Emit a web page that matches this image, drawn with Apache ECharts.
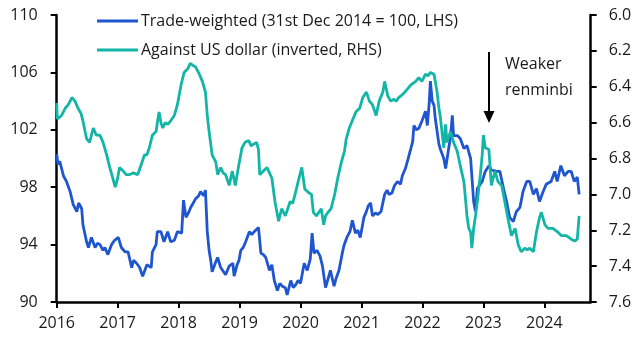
<!DOCTYPE html>
<html><head><meta charset="utf-8">
<script src="https://cdn.jsdelivr.net/npm/echarts@6/dist/echarts.min.js"></script>
<style>html,body{margin:0;padding:0;background:#fff}#c{width:644px;height:355px}</style>
</head><body><div id="c"></div>
<script>
// Trade-weighted renminbi (31st Dec 2014 = 100), LHS
const twYears = [2016.00,2016.02,2016.05,2016.11,2016.16,2016.22,2016.27,2016.33,2016.36,2016.41,2016.43,2016.49,2016.52,2016.57,2016.63,2016.67,2016.71,2016.76,2016.79,2016.84,2016.90,2016.95,2017.01,2017.06,2017.12,2017.17,2017.23,2017.26,2017.31,2017.36,2017.41,2017.48,2017.55,2017.57,2017.63,2017.65,2017.71,2017.76,2017.82,2017.87,2017.93,2017.98,2018.05,2018.08,2018.12,2018.16,2018.20,2018.24,2018.28,2018.33,2018.36,2018.41,2018.44,2018.47,2018.50,2018.53,2018.55,2018.61,2018.64,2018.69,2018.72,2018.77,2018.83,2018.89,2018.91,2018.96,2018.99,2019.02,2019.06,2019.10,2019.16,2019.20,2019.24,2019.31,2019.35,2019.39,2019.43,2019.49,2019.53,2019.57,2019.62,2019.66,2019.70,2019.75,2019.78,2019.84,2019.88,2019.92,2019.96,2020.00,2020.06,2020.11,2020.16,2020.19,2020.22,2020.27,2020.32,2020.36,2020.41,2020.45,2020.49,2020.55,2020.58,2020.63,2020.68,2020.71,2020.76,2020.81,2020.85,2020.90,2020.94,2020.98,2021.04,2021.08,2021.11,2021.15,2021.18,2021.23,2021.27,2021.32,2021.38,2021.42,2021.45,2021.50,2021.54,2021.59,2021.64,2021.67,2021.72,2021.76,2021.81,2021.84,2021.86,2021.90,2021.94,2021.99,2022.05,2022.08,2022.11,2022.13,2022.16,2022.19,2022.21,2022.24,2022.27,2022.29,2022.35,2022.38,2022.43,2022.46,2022.49,2022.51,2022.57,2022.62,2022.68,2022.73,2022.79,2022.81,2022.84,2022.87,2022.90,2022.93,2022.98,2023.03,2023.09,2023.13,2023.16,2023.22,2023.27,2023.33,2023.38,2023.43,2023.49,2023.54,2023.60,2023.65,2023.71,2023.76,2023.82,2023.87,2023.92,2023.98,2024.03,2024.11,2024.17,2024.21,2024.27,2024.33,2024.39,2024.44,2024.49,2024.54,2024.57];
const twValues = [100.3,99.6,99.8,98.8,98.4,97.7,96.8,96.3,96.9,96.5,95.4,94.2,93.8,94.5,93.8,94.1,94.0,93.6,93.8,93.3,94.0,94.3,94.5,93.8,93.5,93.5,92.4,92.9,92.7,92.4,91.8,92.6,92.4,93.5,94.0,94.9,94.9,94.2,94.9,94.2,94.3,94.9,94.8,97.1,95.9,96.2,96.6,96.9,97.2,97.4,97.7,97.4,97.8,94.9,93.6,92.8,92.1,92.8,93.1,92.4,92.5,91.9,92.5,92.7,91.8,92.6,92.9,93.6,93.8,94.2,94.9,94.7,94.9,95.2,93.4,93.3,93.1,92.2,92.6,91.5,90.8,91.3,91.1,91.0,90.5,91.5,91.0,91.2,91.5,91.3,92.7,92.2,93.0,94.8,93.4,93.6,93.2,92.5,91.0,91.6,92.2,91.1,91.6,92.2,93.3,93.9,94.5,94.9,95.7,94.8,95.0,94.5,95.9,96.3,96.7,96.9,96.0,96.2,96.1,96.3,97.5,97.8,97.5,97.6,98.1,98.4,98.2,98.8,99.3,99.9,100.7,101.2,102.3,102.0,102.1,102.6,103.3,102.3,103.8,105.4,104.0,103.7,102.8,101.9,101.0,100.7,100.0,99.3,100.7,101.5,103.0,101.6,101.6,101.4,100.7,100.9,100.0,98.8,97.0,96.3,97.9,98.0,98.4,99.1,99.5,99.2,99.3,99.1,99.1,97.9,97.0,95.9,95.6,96.3,96.6,97.7,98.4,98.4,97.5,97.9,97.0,97.7,98.2,98.4,99.1,98.4,99.5,98.8,99.1,99.1,98.4,98.7,97.5];

// Renminbi per US dollar (inverted), RHS
const usdYears = [2016.00,2016.01,2016.03,2016.08,2016.14,2016.19,2016.25,2016.30,2016.35,2016.40,2016.43,2016.49,2016.54,2016.60,2016.65,2016.71,2016.76,2016.82,2016.87,2016.92,2016.96,2017.00,2017.03,2017.09,2017.14,2017.20,2017.25,2017.28,2017.33,2017.38,2017.44,2017.48,2017.52,2017.57,2017.63,2017.66,2017.68,2017.71,2017.74,2017.78,2017.82,2017.87,2017.93,2017.98,2018.04,2018.09,2018.15,2018.19,2018.23,2018.28,2018.34,2018.39,2018.44,2018.47,2018.50,2018.55,2018.61,2018.64,2018.69,2018.73,2018.77,2018.83,2018.88,2018.93,2018.98,2019.04,2019.09,2019.15,2019.19,2019.23,2019.28,2019.31,2019.33,2019.39,2019.45,2019.49,2019.53,2019.58,2019.64,2019.69,2019.75,2019.79,2019.83,2019.87,2019.91,2019.96,2020.02,2020.07,2020.13,2020.18,2020.21,2020.26,2020.34,2020.38,2020.41,2020.45,2020.50,2020.56,2020.61,2020.67,2020.72,2020.75,2020.80,2020.86,2020.91,2020.97,2021.02,2021.08,2021.13,2021.18,2021.24,2021.29,2021.35,2021.38,2021.43,2021.48,2021.53,2021.57,2021.61,2021.65,2021.71,2021.76,2021.81,2021.85,2021.89,2021.94,2021.99,2022.05,2022.09,2022.13,2022.19,2022.21,2022.24,2022.27,2022.29,2022.32,2022.35,2022.38,2022.40,2022.46,2022.51,2022.57,2022.62,2022.68,2022.71,2022.73,2022.76,2022.79,2022.81,2022.84,2022.87,2022.90,2022.95,2022.98,2023.00,2023.03,2023.09,2023.13,2023.19,2023.24,2023.30,2023.35,2023.40,2023.46,2023.52,2023.57,2023.62,2023.68,2023.72,2023.76,2023.82,2023.87,2023.92,2023.95,2024.01,2024.06,2024.14,2024.22,2024.28,2024.36,2024.44,2024.50,2024.54,2024.57];
const usdValues = [6.49,6.58,6.59,6.56,6.52,6.50,6.46,6.48,6.52,6.55,6.59,6.69,6.71,6.63,6.67,6.67,6.71,6.78,6.85,6.91,6.96,6.91,6.85,6.87,6.89,6.89,6.88,6.87,6.89,6.84,6.78,6.78,6.74,6.67,6.65,6.58,6.54,6.60,6.63,6.60,6.61,6.59,6.56,6.50,6.39,6.32,6.30,6.27,6.28,6.29,6.33,6.37,6.43,6.56,6.65,6.78,6.82,6.89,6.85,6.88,6.89,6.95,6.87,6.95,6.85,6.74,6.71,6.70,6.73,6.72,6.71,6.75,6.89,6.87,6.85,6.88,6.91,7.04,7.15,7.08,7.12,7.08,7.04,7.05,7.00,6.93,6.85,6.97,6.99,7.00,7.10,7.12,7.08,7.17,7.12,7.10,7.08,7.00,6.91,6.82,6.76,6.69,6.63,6.58,6.54,6.52,6.46,6.43,6.48,6.50,6.56,6.48,6.43,6.37,6.45,6.48,6.47,6.48,6.46,6.45,6.43,6.41,6.39,6.38,6.37,6.35,6.37,6.33,6.34,6.32,6.33,6.37,6.43,6.52,6.56,6.65,6.74,6.61,6.71,6.65,6.71,6.76,6.84,6.93,7.04,7.12,7.19,7.21,7.30,7.19,7.12,7.04,6.89,6.78,6.67,6.74,6.75,6.95,6.87,6.93,6.95,7.04,7.13,7.23,7.19,7.28,7.32,7.30,7.31,7.30,7.32,7.21,7.13,7.10,7.17,7.19,7.19,7.21,7.23,7.23,7.25,7.26,7.25,7.12];

const xTickYears = [2016,2017,2018,2019,2020,2021,2022,2023,2024];
const leftTicks = [90,94,98,102,106,110];
const rightTicks = [6.0,6.2,6.4,6.6,6.8,7.0,7.2,7.4,7.6];
const seriesNames = ['Trade-weighted (31st Dec 2014 = 100, LHS)','Against US dollar (inverted, RHS)'];
const annotationLines = ['Weaker','renminbi'];

const FONT = '"Open Sans", "Noto Sans", sans-serif';
const TXT = '#1a1a1a';
const BLUE = '#1f55cf';
const TEAL = '#12b5a6';

const chart = echarts.init(document.getElementById('c'), null, {renderer:'canvas'});
const axisLineStyle = {color:'#000', width:2.5};
chart.setOption({
  animation:false,
  backgroundColor:'#fff',
  textStyle:{fontFamily:FONT},
  grid:{left:56.7, right:53.3, top:15, bottom:53, containLabel:false},
  legend:{
    orient:'vertical', left:92, top:8, itemGap:13, padding:5,
    itemWidth:41, itemHeight:3, icon:'rect',
    textStyle:{fontFamily:FONT, fontSize:16, color:TXT, padding:[0,0,0,-2]},
    data:[{name:seriesNames[0], itemStyle:{color:BLUE}},{name:seriesNames[1], itemStyle:{color:TEAL}}]
  },
  xAxis:{
    type:'value', min:xTickYears[0], max:2024.76, interval:1,
    axisLine:{show:true, lineStyle:axisLineStyle, onZero:false},
    axisTick:{show:true, inside:false, length:6, lineStyle:{color:'#000', width:2}},
    axisLabel:{fontFamily:FONT, fontSize:16, color:TXT, margin:13, showMaxLabel:false,
      formatter:v => xTickYears.includes(Math.round(v)) && Math.abs(v-Math.round(v))<1e-6 ? String(Math.round(v)) : ''},
    splitLine:{show:false}
  },
  yAxis:[{
    type:'value', position:'left', min:leftTicks[0], max:leftTicks[leftTicks.length-1], interval:leftTicks[1]-leftTicks[0],
    axisLine:{show:true, lineStyle:axisLineStyle},
    axisTick:{show:true, inside:false, length:6, lineStyle:{color:'#000', width:2}},
    axisLabel:{fontFamily:FONT, fontSize:16, color:TXT, margin:19},
    splitLine:{show:false}
  },{
    type:'value', position:'right', inverse:true, min:rightTicks[0], max:rightTicks[rightTicks.length-1], interval:0.2,
    axisLine:{show:true, lineStyle:axisLineStyle},
    axisTick:{show:true, inside:false, length:6, lineStyle:{color:'#000', width:2}},
    axisLabel:{fontFamily:FONT, fontSize:16, color:TXT, margin:18, formatter:v=>(+v).toFixed(1)},
    splitLine:{show:false}
  }],
  series:[{
    name:seriesNames[0], type:'line', yAxisIndex:0, showSymbol:false, symbol:'none',
    lineStyle:{color:BLUE, width:2.8}, itemStyle:{color:BLUE},
    data:twYears.map((y,i)=>[y, twValues[i]]), z:2
  },{
    name:seriesNames[1], type:'line', yAxisIndex:1, showSymbol:false, symbol:'none',
    lineStyle:{color:TEAL, width:2.8}, itemStyle:{color:TEAL},
    data:usdYears.map((y,i)=>[y, usdValues[i]]), z:3
  }],
  graphic:[
    {type:'line', shape:{x1:489, y1:52, x2:489, y2:114}, style:{stroke:'#000', lineWidth:2}},
    {type:'polygon', shape:{points:[[483.5,111],[494.5,111],[489,123]]}, style:{fill:'#000'}},
    {type:'text', left:505, top:51, style:{text:annotationLines.join('\n'), font:'16px '+FONT, fill:TXT, lineHeight:26}}
  ]
});
</script></body></html>
